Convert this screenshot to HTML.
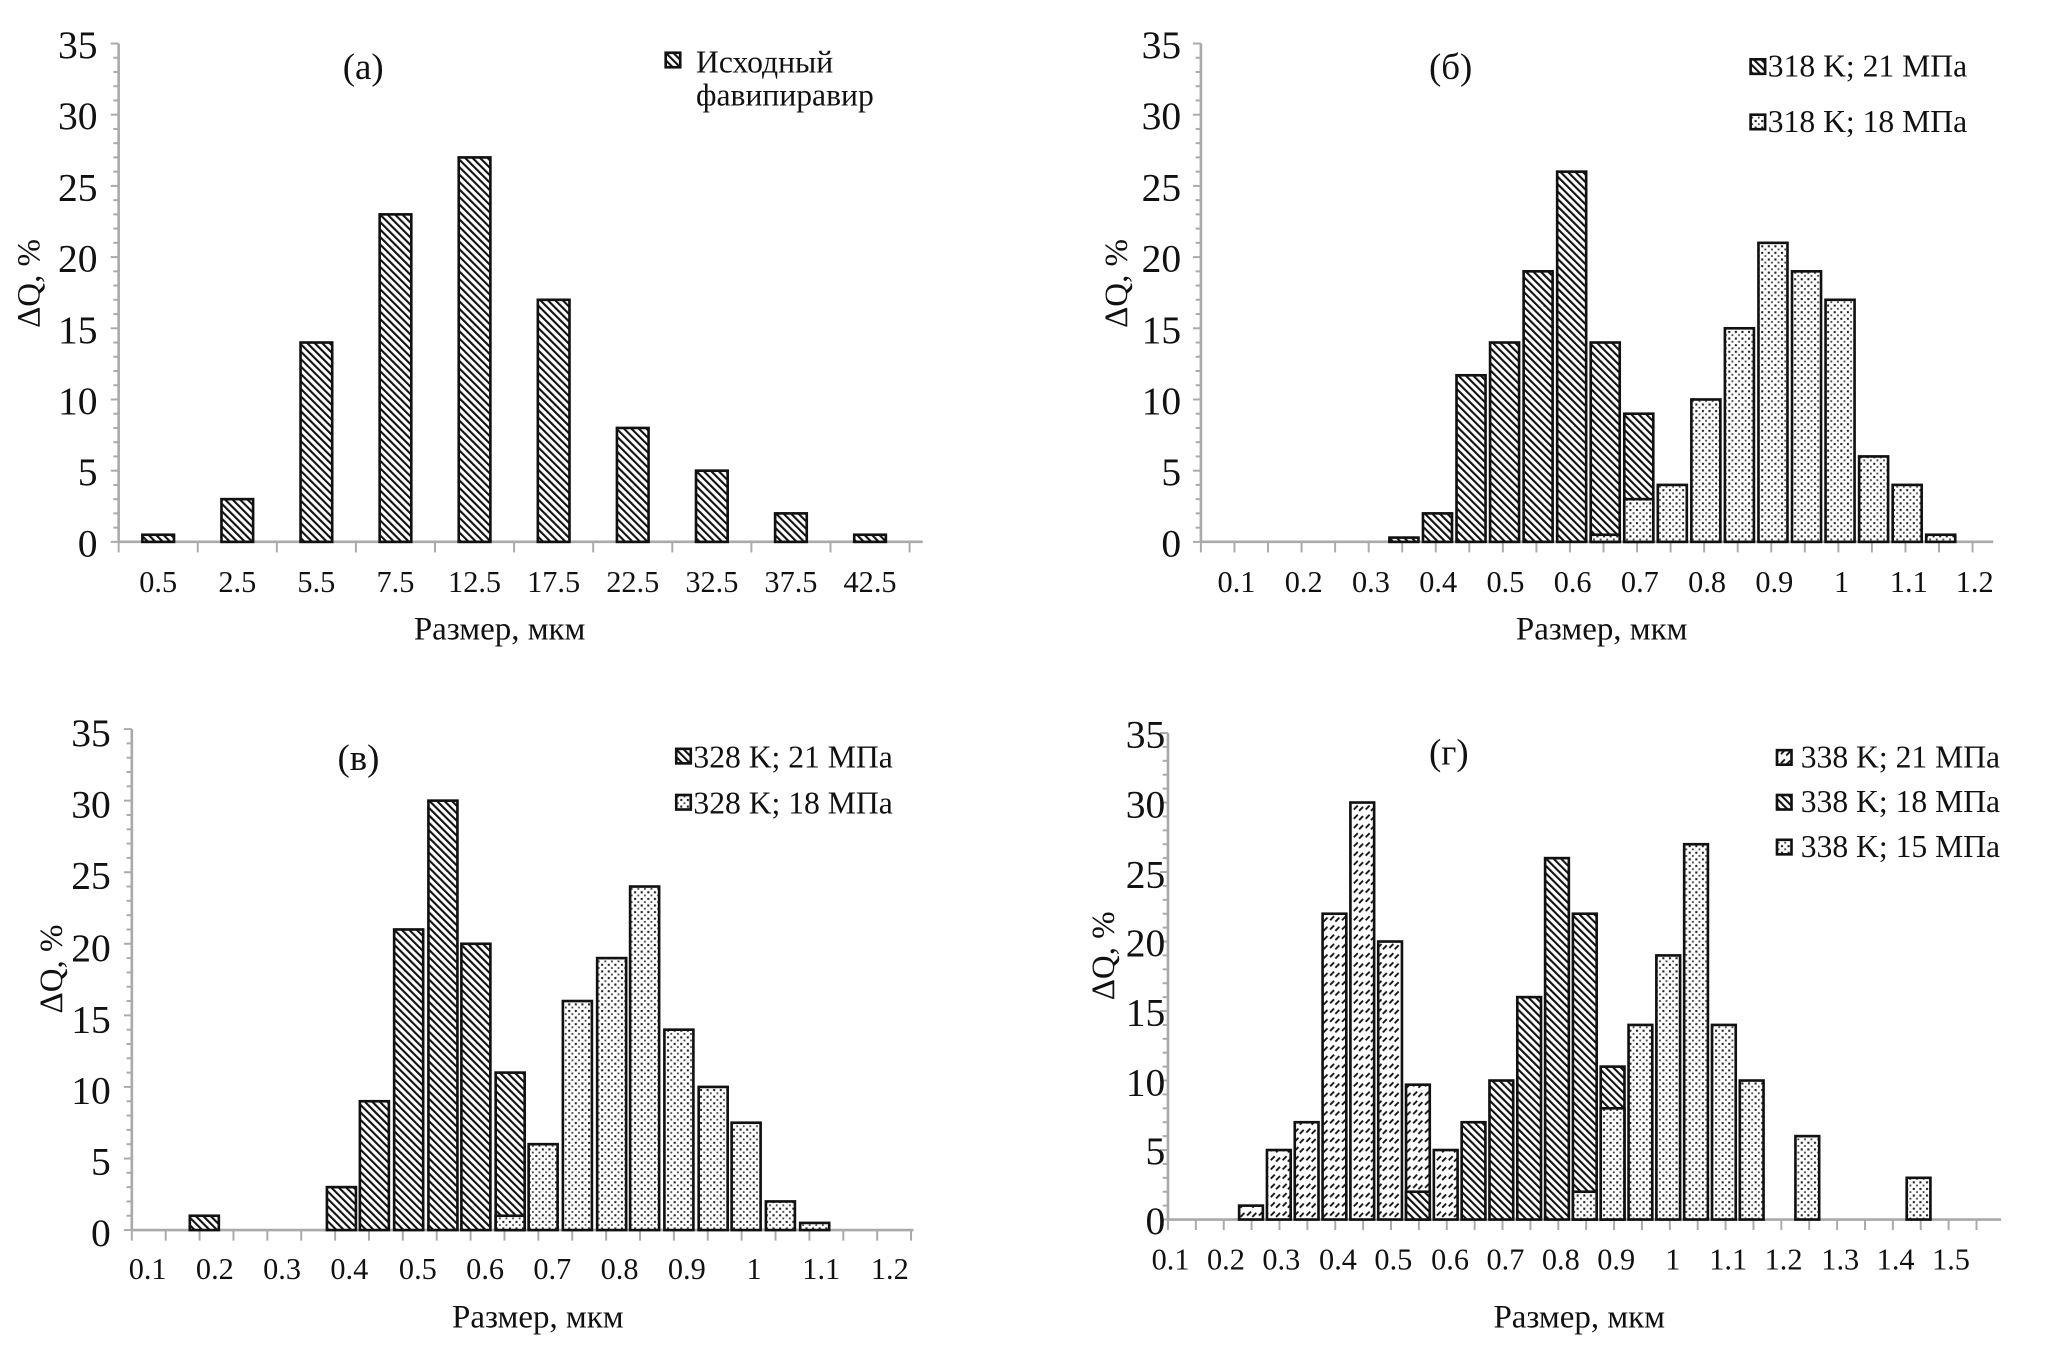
<!DOCTYPE html>
<html><head><meta charset="utf-8"><style>
html,body{margin:0;padding:0;background:#fff;}
svg{display:block;}
text{font-family:"Liberation Serif",serif;fill:#111;}
.yl{font-size:30px;text-anchor:end;}
.xl{font-size:23px;text-anchor:middle;}
.tt{font-size:25px;text-anchor:middle;}
.lg{font-size:24px;}
.pl{font-size:28px;}
</style></head><body>
<svg id="s" width="2067" height="1354" viewBox="0 0 1568 1027" preserveAspectRatio="none" xmlns="http://www.w3.org/2000/svg">
<defs>
<pattern id="h" width="4" height="4" patternUnits="userSpaceOnUse" patternTransform="rotate(-45)">
<rect width="4" height="4" fill="#fff"/><rect width="1.6" height="4" fill="#111"/></pattern>
<pattern id="d" width="5" height="5" patternUnits="userSpaceOnUse">
<rect width="5" height="5" fill="#fff"/><rect x="1" y="1" width="1.6" height="1.6" fill="#222"/><rect x="3.5" y="3.5" width="1.4" height="1.4" fill="#444"/></pattern>
<pattern id="w" width="9" height="7" patternUnits="userSpaceOnUse">
<rect width="9" height="7" fill="#fff"/><path d="M1 5 L4 2 M5 6 L8 3" stroke="#111" stroke-width="1.4"/></pattern>
</defs>
<g id="g"></g>
<!-- panel a -->
<text class="yl" x="74" y="44">35</text><text class="yl" x="74" y="98">30</text><text class="yl" x="74" y="152">25</text><text class="yl" x="74" y="206">20</text><text class="yl" x="74" y="260">15</text><text class="yl" x="74" y="314">10</text><text class="yl" x="74" y="368">5</text><text class="yl" x="74" y="422">0</text>
<text class="xl" x="120" y="449">0.5</text><text class="xl" x="180" y="449">2.5</text><text class="xl" x="240" y="449">5.5</text><text class="xl" x="300" y="449">7.5</text><text class="xl" x="360" y="449">12.5</text><text class="xl" x="420" y="449">17.5</text><text class="xl" x="480" y="449">22.5</text><text class="xl" x="540" y="449">32.5</text><text class="xl" x="600" y="449">37.5</text><text class="xl" x="660" y="449">42.5</text>
<text class="tt" x="379" y="485">Размер, мкм</text>
<text class="tt" transform="translate(30,215) rotate(-90)">ΔQ, %</text>
<text class="pl" x="260" y="60">(a)</text>
<rect x="505" y="40" width="11" height="11" fill="url(#h)" stroke="#111" stroke-width="2"/>
<text class="lg" x="528" y="55">Исходный</text><text class="lg" x="528" y="80">фавипиравир</text>
<!-- panel b -->
<text class="yl" x="896" y="44">35</text><text class="yl" x="896" y="98">30</text><text class="yl" x="896" y="152">25</text><text class="yl" x="896" y="206">20</text><text class="yl" x="896" y="260">15</text><text class="yl" x="896" y="314">10</text><text class="yl" x="896" y="368">5</text><text class="yl" x="896" y="422">0</text>
<text class="xl" x="938" y="449">0.1</text><text class="xl" x="989" y="449">0.2</text><text class="xl" x="1040" y="449">0.3</text><text class="xl" x="1091" y="449">0.4</text><text class="xl" x="1142" y="449">0.5</text><text class="xl" x="1193" y="449">0.6</text><text class="xl" x="1244" y="449">0.7</text><text class="xl" x="1295" y="449">0.8</text><text class="xl" x="1346" y="449">0.9</text><text class="xl" x="1397" y="449">1</text><text class="xl" x="1448" y="449">1.1</text><text class="xl" x="1498" y="449">1.2</text>
<text class="tt" x="1215" y="485">Размер, мкм</text>
<text class="tt" transform="translate(855,215) rotate(-90)">ΔQ, %</text>
<text class="pl" x="1084" y="60">(б)</text>
<rect x="1328" y="45" width="11" height="11" fill="url(#h)" stroke="#111" stroke-width="2"/>
<text class="lg" x="1341" y="58">318 K; 21 МПа</text>
<rect x="1328" y="87" width="11" height="11" fill="url(#d)" stroke="#111" stroke-width="2"/>
<text class="lg" x="1341" y="100">318 K; 18 МПа</text>
<!-- panel v -->
<text class="yl" x="84" y="566">35</text><text class="yl" x="84" y="620">30</text><text class="yl" x="84" y="674">25</text><text class="yl" x="84" y="729">20</text><text class="yl" x="84" y="783">15</text><text class="yl" x="84" y="837">10</text><text class="yl" x="84" y="891">5</text><text class="yl" x="84" y="945">0</text>
<text class="xl" x="112" y="970">0.1</text><text class="xl" x="163" y="970">0.2</text><text class="xl" x="214" y="970">0.3</text><text class="xl" x="265" y="970">0.4</text><text class="xl" x="317" y="970">0.5</text><text class="xl" x="368" y="970">0.6</text><text class="xl" x="419" y="970">0.7</text><text class="xl" x="470" y="970">0.8</text><text class="xl" x="521" y="970">0.9</text><text class="xl" x="572" y="970">1</text><text class="xl" x="623" y="970">1.1</text><text class="xl" x="675" y="970">1.2</text>
<text class="tt" x="408" y="1007">Размер, мкм</text>
<text class="tt" transform="translate(47,735) rotate(-90)">ΔQ, %</text>
<text class="pl" x="256" y="584">(в)</text>
<rect x="513" y="568" width="11" height="11" fill="url(#h)" stroke="#111" stroke-width="2"/>
<text class="lg" x="526" y="582">328 K; 21 МПа</text>
<rect x="513" y="603" width="11" height="11" fill="url(#d)" stroke="#111" stroke-width="2"/>
<text class="lg" x="526" y="617">328 K; 18 МПа</text>
<!-- panel g -->
<text class="yl" x="884" y="567">35</text><text class="yl" x="884" y="620">30</text><text class="yl" x="884" y="673">25</text><text class="yl" x="884" y="725">20</text><text class="yl" x="884" y="778">15</text><text class="yl" x="884" y="831">10</text><text class="yl" x="884" y="883">5</text><text class="yl" x="884" y="936">0</text>
<text class="xl" x="888" y="963">0.1</text><text class="xl" x="930" y="963">0.2</text><text class="xl" x="972" y="963">0.3</text><text class="xl" x="1015" y="963">0.4</text><text class="xl" x="1057" y="963">0.5</text><text class="xl" x="1100" y="963">0.6</text><text class="xl" x="1142" y="963">0.7</text><text class="xl" x="1184" y="963">0.8</text><text class="xl" x="1226" y="963">0.9</text><text class="xl" x="1269" y="963">1</text><text class="xl" x="1311" y="963">1.1</text><text class="xl" x="1353" y="963">1.2</text><text class="xl" x="1396" y="963">1.3</text><text class="xl" x="1438" y="963">1.4</text><text class="xl" x="1480" y="963">1.5</text>
<text class="tt" x="1198" y="1007">Размер, мкм</text>
<text class="tt" transform="translate(845,725) rotate(-90)">ΔQ, %</text>
<text class="pl" x="1084" y="580">(г)</text>
<rect x="1348" y="569" width="11" height="11" fill="url(#w)" stroke="#111" stroke-width="2"/>
<text class="lg" x="1366" y="582">338 K; 21 МПа</text>
<rect x="1348" y="603" width="11" height="11" fill="url(#h)" stroke="#111" stroke-width="2"/>
<text class="lg" x="1366" y="616">338 K; 18 МПа</text>
<rect x="1348" y="637" width="11" height="11" fill="url(#d)" stroke="#111" stroke-width="2"/>
<text class="lg" x="1366" y="650">338 K; 15 МПа</text>
</svg>
<script>
var g=document.getElementById('g'),NS='http://www.w3.org/2000/svg';
function el(t,a){var e=document.createElementNS(NS,t);for(var k in a)e.setAttribute(k,a[k]);g.appendChild(e);return e;}
function axes(ax,y0,y35,x1,xt){
  var u=(y0-y35)/35;
  el('line',{x1:ax,y1:y35,x2:ax,y2:y0,stroke:'#aaa','stroke-width':2});
  el('line',{x1:ax,y1:y0,x2:x1,y2:y0,stroke:'#aaa','stroke-width':2});
  for(var i=0;i<=35;i++){var y=y0-i*u;el('line',{x1:ax-(i%5?4:6),y1:y,x2:ax,y2:y,stroke:'#aaa','stroke-width':1.5});}
  xt.forEach(function(x){el('line',{x1:x,y1:y0,x2:x,y2:y0+8,stroke:'#aaa','stroke-width':1.5});});
  return u;
}
function bars(y0,u,w,list,fill){list.forEach(function(b){var h=b[1]*u;el('rect',{x:b[0]-w/2,y:y0-h,width:w,height:h,fill:'url(#'+fill+')',stroke:'#111','stroke-width':2});});}
function rng(a,b,s){var r=[];for(var x=a;x<=b+0.01;x+=s)r.push(x);return r;}
var u=axes(90,411,33,700,rng(90,700,60));
bars(411,u,24,[[120,.5],[180,3],[240,14],[300,23],[360,27],[420,17],[480,8],[540,5],[600,2],[660,.5]],'h');
u=axes(911,411,33,1512,rng(911,1512,25.45));
var s=25.45,c=function(k){return 1065+(k-0.35)/0.05*s;};
bars(411,u,22,[[c(.35),.3],[c(.40),2],[c(.45),11.7],[c(.5),14],[c(.55),19],[c(.6),26],[c(.65),14],[c(.7),9]],'h');
bars(411,u,22,[[c(.65),.5],[c(.7),3],[c(.75),4],[c(.8),10],[c(.85),15],[c(.9),21],[c(.95),19],[c(1),17],[c(1.05),6],[c(1.1),4],[c(1.15),.5]],'d');
u=axes(100,933,553,693,rng(100,693,25.7));
bars(933,u,22,[[155,1],[259,3],[284,9],[310,21],[336,30],[361,20],[387,11]],'h');
bars(933,u,22,[[387,1],[412,6],[438,16],[464,19],[489,24],[515,14],[541,10],[566,7.5],[592,2],[618,.5]],'d');
u=axes(886,925,556,1518,rng(886,1518,21.15));
var q=function(k){return 949+k*21.1;};
bars(925,u,18,[[q(0),1],[q(1),5],[q(2),7],[q(3),22],[q(4),30],[q(5),20],[q(6),9.7],[q(7),5]],'w');
bars(925,u,18,[[q(6),2],[q(8),7],[q(9),10],[q(10),16],[q(11),26],[q(12),22],[q(13),11]],'h');
bars(925,u,18,[[q(12),2],[q(13),8],[q(14),14],[q(15),19],[q(16),27],[q(17),14],[q(18),10],[q(20),6],[q(24),3]],'d');
</script>
</body></html>
